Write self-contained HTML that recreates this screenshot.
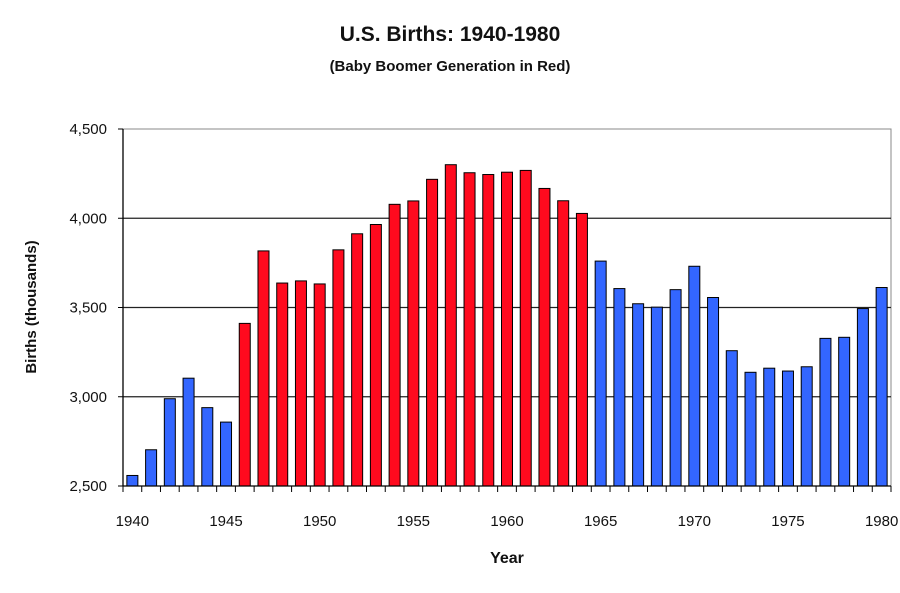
<!DOCTYPE html>
<html><head><meta charset="utf-8"><style>
body{margin:0;background:#fff;width:900px;height:588px;overflow:hidden;font-family:"Liberation Sans",Arial,sans-serif}
</style></head><body>
<svg id="chart" width="900" height="588" xmlns="http://www.w3.org/2000/svg" font-family="Liberation Sans, Arial, sans-serif">
<text x="450" y="41" text-anchor="middle" font-size="21" font-weight="bold" fill="#111">U.S. Births: 1940-1980</text>
<text x="450" y="71" text-anchor="middle" font-size="15" font-weight="bold" fill="#111">(Baby Boomer Generation in Red)</text>
<text transform="translate(36,307) rotate(-90)" text-anchor="middle" font-size="15" font-weight="bold" fill="#111">Births (thousands)</text>
<text x="507" y="563" text-anchor="middle" font-size="16" font-weight="bold" fill="#111">Year</text>
<g id="grid"></g><g id="bars"></g><g id="axes"></g>
</svg>
<script>
const years = [];
for (let y = 1940; y <= 1980; y++) years.push(y);
const births = [2559,2703,2989,3104,2939,2858,3411,3817,3637,3649,3632,3823,3913,3965,4078,4097,4218,4300,4255,4245,4258,4268,4167,4098,4027,3760,3606,3521,3502,3600,3731,3556,3258,3137,3160,3144,3168,3327,3333,3494,3612];
const boomerStart = 1946, boomerEnd = 1964;
const yTicks = [2500,3000,3500,4000,4500];
const yTickLabels = ["2,500","3,000","3,500","4,000","4,500"];
const xLabelYears = [1940,1945,1950,1955,1960,1965,1970,1975,1980];

const NS="http://www.w3.org/2000/svg";
const L=123,R=891,T=129,B=486,yMin=2500,yMax=4500;
const cw=(R-L)/years.length;
const yS=v=>B-(v-yMin)/(yMax-yMin)*(B-T);
const xS=i=>L+i*cw;
function mk(t,a,p){const e=document.createElementNS(NS,t);for(const k in a)e.setAttribute(k,a[k]);p.appendChild(e);return e;}
const grid=document.getElementById('grid'),bars=document.getElementById('bars'),axes=document.getElementById('axes');
mk('rect',{x:L,y:T,width:R-L,height:B-T,fill:'none',stroke:'#888','stroke-width':1},grid);
yTicks.forEach((v,i)=>{
  const yy=yS(v);
  if(v>yMin&&v<yMax){const g=mk('line',{x1:L,x2:R,y1:yy,y2:yy,stroke:'#222','stroke-width':1.3},grid);
  
  }
  mk('line',{x1:L-5,x2:L,y1:yy,y2:yy,stroke:'#000'},axes);
  const t=mk('text',{x:L-16,y:yy+5,'text-anchor':'end','font-size':15,fill:'#111'},axes);
  t.textContent=yTickLabels[i];
  
  
});
years.forEach((yr,i)=>{
  const v=births[i],x=xS(i)+cw/2-5.5,yy=yS(v);
  const boom=yr>=boomerStart&&yr<=boomerEnd;
  const r=mk('rect',{x:x,y:yy,width:11,height:B-yy,fill:boom?'#ff0a1e':'#3366ff',stroke:'#000','stroke-width':1},bars);
  
  
});
for(let i=0;i<=years.length;i++){mk('line',{x1:xS(i),x2:xS(i),y1:B,y2:B+6,stroke:'#000'},axes);}
mk('line',{x1:L,x2:L,y1:T,y2:B,stroke:'#000','stroke-width':1.3},axes);
mk('line',{x1:L,x2:R,y1:B,y2:B,stroke:'#000','stroke-width':1.3},axes);
xLabelYears.forEach(yr=>{
  const i=years.indexOf(yr);
  const t=mk('text',{x:xS(i)+cw/2,y:526,'text-anchor':'middle','font-size':15,fill:'#111'},axes);
  t.textContent=yr;
  
  
});
</script>
</body></html>
